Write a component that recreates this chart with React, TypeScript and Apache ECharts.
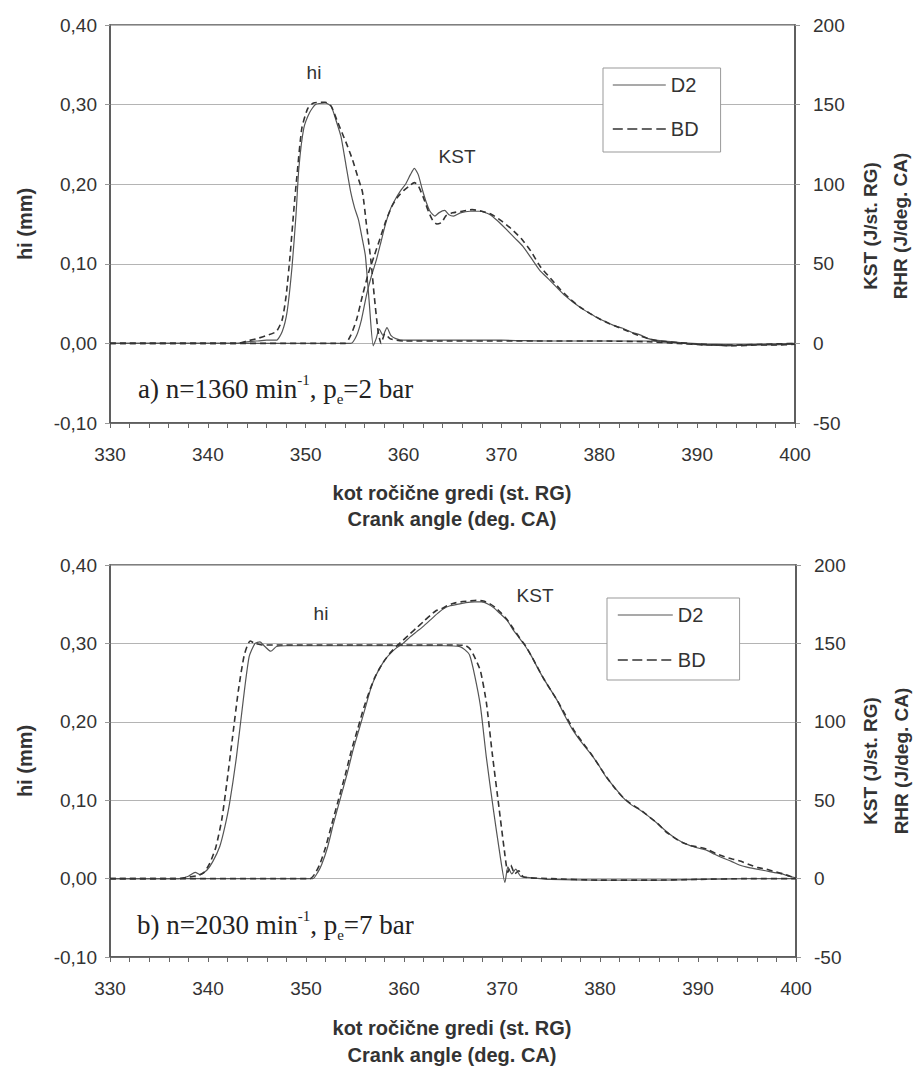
import React, { useEffect, useRef } from "react";
import * as echarts from "echarts";

// ---------- data (crank angle [deg], value) ----------
// Panel a) n=1360 min-1, pe=2 bar
const hiD2A: [number, number][] = [
  [330, 0], [343, 0], [344, 0.002], [345, 0.003], [346, 0.004], [347, 0.004], [347.6, 0.015], [348.1, 0.04],
  [348.6, 0.096], [349, 0.16], [349.3, 0.22], [349.8, 0.27], [350.4, 0.29], [351, 0.3], [352, 0.302],
  [352.6, 0.298], [353.1, 0.28], [353.6, 0.26], [354.1, 0.225], [354.6, 0.19], [355, 0.17], [355.4, 0.155],
  [355.8, 0.13], [356.1, 0.11], [356.5, 0.05], [356.9, -0.003], [357.2, 0.006], [357.5, 0.018], [357.9, 0.01],
  [358.3, 0.02], [358.7, 0.01], [359.2, 0.006], [360, 0.004], [365, 0.004], [370, 0.004], [375, 0.003],
  [380, 0.003], [385, 0.003], [388, 0.001], [391, -0.001], [394, -0.002], [397, -0.001], [400, 0],
];
const hiBDA: [number, number][] = [
  [330, 0], [343, 0], [344, 0.003], [345, 0.006], [346, 0.01], [347, 0.015], [347.6, 0.03], [348, 0.06],
  [348.4, 0.11], [348.8, 0.17], [349.1, 0.21], [349.6, 0.27], [350.2, 0.295], [350.8, 0.302], [352, 0.303],
  [352.6, 0.298], [353.2, 0.28], [353.7, 0.265], [354.2, 0.25], [354.8, 0.23], [355.3, 0.21], [355.8, 0.19],
  [356.2, 0.15], [356.7, 0.1], [357, 0.06], [357.4, 0.015], [357.7, 0], [358.1, 0.012], [358.6, 0.006],
  [359.3, 0.004], [360, 0.003], [365, 0.003], [370, 0.003], [375, 0.003], [380, 0.003], [385, 0.002],
  [388, 0], [391, -0.002], [394, -0.002], [397, -0.001], [400, 0],
];
const kstD2A: [number, number][] = [
  [330, 0], [354.6, 0], [355.2, 5], [355.7, 15], [356.2, 30], [356.7, 42], [357.2, 52], [357.7, 64],
  [358.2, 76], [358.7, 85], [359.2, 91], [359.7, 96], [360.2, 100], [360.7, 106], [361.1, 110], [361.5, 106],
  [361.9, 97], [362.3, 89], [362.7, 83], [363.2, 80], [363.6, 82], [364.2, 83.5], [364.6, 81], [365.1, 80],
  [365.8, 82], [366.8, 83], [367.8, 83], [368.8, 81], [369.6, 77], [370.6, 71], [371.4, 66], [372.2, 61],
  [373, 54], [373.9, 46], [374.8, 40.5], [375.6, 35.5], [376.5, 30], [377.3, 26], [378.2, 22], [379, 19],
  [380, 15.5], [380.7, 13.5], [381.6, 11], [382.4, 9.5], [383.3, 7], [384.1, 5.5], [385, 3], [385.8, 2],
  [387.5, 1], [389, 0], [391, -1], [393, -1.5], [395, -1], [397, -1], [400, -0.5],
];
const kstBDA: [number, number][] = [
  [330, 0], [354, 0], [354.6, 5], [355.2, 15], [355.8, 30], [356.4, 44], [357, 55], [357.6, 66], [358.2, 77],
  [358.8, 86], [359.4, 92], [360, 96], [360.6, 99], [361.1, 101], [361.5, 99], [362, 92], [362.6, 82],
  [363, 77], [363.4, 75], [363.9, 76], [364.3, 80], [365, 82], [366, 83], [367, 84], [368, 83], [369, 81],
  [370, 77], [371, 72], [372, 66], [373, 58], [374, 48], [375, 41], [376, 34], [377, 28], [378, 23], [379, 19],
  [380, 15.5], [381, 12.5], [382, 10], [383, 7.5], [384, 5], [385, 3], [386, 1.5], [387, 1], [388, 0.5],
  [390, -0.5], [392, -1], [394, -1.5], [396, -1], [398, -1], [400, -0.5],
];

// Panel b) n=2030 min-1, pe=7 bar
const hiD2B: [number, number][] = [
  [330, 0], [337, 0], [338, 0.003], [338.7, 0.008], [339.2, 0.005], [339.9, 0.011], [340.5, 0.022],
  [341.2, 0.041], [341.7, 0.065], [342.2, 0.096], [342.9, 0.155], [343.6, 0.228], [344.2, 0.283], [344.8, 0.3],
  [345.3, 0.302], [345.8, 0.296], [346.4, 0.29], [347, 0.296], [348, 0.297], [350, 0.297], [355, 0.297],
  [360, 0.297], [364, 0.297], [365.7, 0.296], [366.2, 0.292], [366.7, 0.285], [367.2, 0.26], [367.8, 0.22],
  [368.4, 0.155], [369.1, 0.09], [369.8, 0.03], [370.3, -0.005], [370.6, 0.015], [371, 0.006], [371.4, 0.012],
  [371.9, 0.003], [373, 0.001], [375, -0.001], [380, -0.002], [385, -0.002], [390, -0.001], [395, 0], [400, 0],
];
const hiBDB: [number, number][] = [
  [330, 0], [337, 0], [338, 0.002], [339, 0.004], [339.6, 0.008], [340.2, 0.02], [340.8, 0.04], [341.4, 0.075],
  [341.9, 0.12], [342.5, 0.18], [343.1, 0.24], [343.7, 0.285], [344.3, 0.303], [344.8, 0.3], [345.5, 0.298],
  [347, 0.298], [350, 0.298], [355, 0.298], [360, 0.298], [365, 0.298], [366.3, 0.297], [366.8, 0.292],
  [367.3, 0.28], [367.8, 0.265], [368.4, 0.225], [369, 0.16], [369.7, 0.09], [370.2, 0.04], [370.6, 0.008],
  [370.9, 0.017], [371.3, 0.006], [371.7, 0.01], [372.2, 0.002], [375, 0], [380, -0.002], [385, -0.002],
  [390, -0.001], [395, 0], [400, 0],
];
const kstD2B: [number, number][] = [
  [330, 0], [350.7, 0], [351.2, 4], [351.6, 9], [352.2, 20], [352.8, 35], [353.5, 51], [354.2, 67], [354.8, 82],
  [355.5, 97], [356.1, 110], [356.6, 121], [357.1, 129], [357.6, 135], [358.1, 140], [358.6, 143.5],
  [359.2, 147], [359.9, 150], [360.6, 154], [361.3, 157.5], [362, 161], [362.7, 165], [363.4, 169], [364, 172],
  [364.7, 174], [365.5, 175], [366.3, 176], [367.2, 176.5], [367.9, 176.5], [368.6, 175], [369.2, 172.5],
  [369.8, 169], [370.5, 165], [371.1, 159], [371.7, 154], [372.3, 149], [372.9, 143], [373.5, 136],
  [374.2, 128], [374.9, 121], [375.6, 114], [376.4, 104], [377.2, 95], [378.1, 87], [379, 80], [379.8, 73],
  [380.6, 65], [381.5, 58], [382.3, 52], [383.1, 47.5], [384, 44], [384.9, 40], [385.8, 35.5], [386.6, 31],
  [387.5, 26.5], [388.3, 23.5], [389.2, 21], [390, 19.5], [390.9, 18], [391.7, 15.5], [392.6, 13], [393.4, 11],
  [394.3, 8.5], [395.2, 7], [396, 6], [396.9, 5], [397.7, 4], [398.6, 3], [399.3, 1.5], [400, 0.5],
];
const kstBDB: [number, number][] = [
  [330, 0], [350.4, 0], [350.9, 3], [351.4, 9], [352, 20], [352.6, 34], [353.3, 50], [354, 66], [354.6, 81],
  [355.3, 96], [355.9, 109], [356.5, 120], [357, 128], [357.5, 134], [358, 139], [358.6, 144], [359.2, 148],
  [359.9, 152], [360.6, 156], [361.3, 160], [362, 164], [362.7, 168], [363.3, 171], [363.8, 172], [364.4, 174],
  [365, 175.5], [365.8, 176.5], [366.6, 177], [367.4, 177.5], [368.1, 177], [368.7, 175.5], [369.3, 173],
  [369.9, 169.5], [370.6, 164.5], [371.2, 159], [371.8, 153.5], [372.4, 148.5], [373, 142], [373.6, 135],
  [374.3, 127], [375, 120], [375.7, 113], [376.5, 104], [377.3, 95], [378.2, 87], [379.1, 79.5], [379.9, 72],
  [380.7, 64.5], [381.6, 57], [382.4, 51.5], [383.2, 47.5], [384.1, 44], [385, 39.5], [385.9, 35], [386.7, 30],
  [387.6, 26], [388.4, 23], [389.3, 21], [390.1, 20], [391, 18.5], [391.8, 16], [392.7, 14], [393.5, 12.5],
  [394.4, 11], [395.2, 9], [396.1, 7], [397, 6], [397.8, 4.5], [398.7, 3], [399.4, 1.5], [400, 0.5],
];

const legendNames = ["D2", "BD"];
const xTitle1 = "kot ročične gredi (st. RG)";
const xTitle2 = "Crank angle (deg. CA)";
const yLeftTitle = "hi (mm)";
const yRightTitle1 = "KST (J/st. RG)";
const yRightTitle2 = "RHR (J/deg. CA)";

const SANS = '"Liberation Sans", Arial, sans-serif';
const SERIF = '"Liberation Serif", "Times New Roman", serif';
const TXT = "#333";

export default function App() {
  const ref = useRef<HTMLDivElement>(null);

  useEffect(() => {
    if (!ref.current) return;
    const chart = echarts.init(ref.current, undefined, { renderer: "svg" });

    const xAxis = (gridIndex: number) => ({
      type: "value",
      gridIndex,
      min: 330,
      max: 400,
      interval: 10,
      axisLine: { show: true, onZero: false, lineStyle: { color: "#555", width: 1.5 } },
      axisTick: { show: true, length: 5, lineStyle: { color: "#666" } },
      minorTick: { show: true, splitNumber: 5, length: 5, lineStyle: { color: "#666" } },
      splitLine: { show: false },
      axisLabel: { color: TXT, fontSize: 19, fontFamily: SANS, margin: 22 },
    });
    const yLeft = (gridIndex: number) => ({
      type: "value",
      gridIndex,
      position: "left",
      min: -0.1,
      max: 0.4,
      interval: 0.1,
      axisLine: { show: true, onZero: false, lineStyle: { color: "#555", width: 1.5 } },
      axisTick: { show: true, length: 5, lineStyle: { color: "#999" } },
      splitLine: { show: true, lineStyle: { color: "#b4b4b4", width: 1 } },
      axisLabel: {
        color: TXT,
        fontSize: 19,
        fontFamily: SANS,
        margin: 13,
        formatter: (v: number) => v.toFixed(2).replace(".", ","),
      },
    });
    const yRight = (gridIndex: number) => ({
      type: "value",
      gridIndex,
      position: "right",
      min: -50,
      max: 200,
      interval: 50,
      axisLine: { show: true, onZero: false, lineStyle: { color: "#555", width: 1.5 } },
      axisTick: { show: true, length: 5, lineStyle: { color: "#999" } },
      splitLine: { show: false },
      axisLabel: { color: TXT, fontSize: 19, fontFamily: SANS, margin: 18 },
    });

    const line = (name: string, data: [number, number][], xi: number, yi: number, dashed: boolean) => ({
      type: "line",
      name,
      data,
      xAxisIndex: xi,
      yAxisIndex: yi,
      symbol: "none",
      smooth: 0.2,
      z: dashed ? 4 : 3,
      itemStyle: { color: dashed ? "#333" : "#555" },
      lineStyle: {
        color: dashed ? "#333" : "#555",
        width: dashed ? 1.6 : 1.2,
        type: dashed ? [6, 4] : "solid",
      },
    });

    const legend = (left: number, top: number, itemWidth: number, itemGap: number, padding: number[]) => ({
      orient: "vertical",
      left,
      top,
      data: [
        { name: legendNames[0], lineStyle: { type: "solid", width: 1.2, color: "#555" } },
        { name: legendNames[1], lineStyle: { type: [10, 4.5], width: 1.6, color: "#333" } },
      ],
      itemWidth,
      itemHeight: 20,
      itemGap,
      padding,
      backgroundColor: "#fff",
      borderColor: "#999",
      borderWidth: 1,
      selectedMode: false,
      itemStyle: { color: "transparent", borderColor: "transparent", borderWidth: 0, opacity: 0 },
      textStyle: { color: TXT, fontSize: 20, fontFamily: SANS, padding: [0, 0, 0, 0] },
    });

    const txt = (x: number, y: number, text: string, size: number, bold = false, rotation = 0, align = "center") => ({
      type: "text",
      x,
      y,
      rotation,
      z: 10,
      style: {
        text,
        fill: TXT,
        font: `${bold ? "bold " : ""}${size}px ${SANS}`,
        align,
        verticalAlign: "middle",
      },
    });

    const note = (x: number, y: number, a: string, n: string, p: string) => ({
      type: "text",
      x,
      y,
      z: 10,
      style: {
        text: `{m|${a}) n=${n} min}{s|-1}{m|, p}{b|e}{m|=${p} bar}`,
        align: "left",
        verticalAlign: "middle",
        fill: "#222",
        rich: {
          m: { fontSize: 27, fontFamily: SERIF, lineHeight: 34, verticalAlign: "middle", fill: "#222" },
          s: { fontSize: 15, fontFamily: SERIF, lineHeight: 24, verticalAlign: "top", fill: "#222" },
          b: { fontSize: 15, fontFamily: SERIF, lineHeight: 28, verticalAlign: "bottom", fill: "#222" },
        },
      },
    });

    chart.setOption({
      animation: false,
      backgroundColor: "#fff",
      grid: [
        { left: 110, top: 25, width: 685, height: 398, show: true, borderColor: "#555", borderWidth: 1.5, backgroundColor: "transparent" },
        { left: 110, top: 565, width: 686, height: 392, show: true, borderColor: "#555", borderWidth: 1.5, backgroundColor: "transparent" },
      ],
      xAxis: [xAxis(0), xAxis(1)],
      yAxis: [yLeft(0), yRight(0), yLeft(1), yRight(1)],
      legend: [
        legend(603, 68, 53, 24, [7, 22, 13, 9]),
        legend(607, 598, 55, 25, [7, 34, 10, 10]),
      ],
      series: [
        line("D2", hiD2A, 0, 0, false),
        line("BD", hiBDA, 0, 0, true),
        line("D2", kstD2A, 0, 1, false),
        line("BD", kstBDA, 0, 1, true),
        line("D2", hiD2B, 1, 2, false),
        line("BD", hiBDB, 1, 2, true),
        line("D2", kstD2B, 1, 3, false),
        line("BD", kstBDB, 1, 3, true),
      ],
      graphic: [
        txt(314, 72, "hi", 19),
        txt(457, 156, "KST", 19),
        txt(321, 613, "hi", 19),
        txt(535, 595, "KST", 19),
        txt(25, 224, yLeftTitle, 20, true, Math.PI / 2),
        txt(25, 761, yLeftTitle, 20, true, Math.PI / 2),
        txt(870, 226, yRightTitle1, 19, true, Math.PI / 2),
        txt(900, 226, yRightTitle2, 19, true, Math.PI / 2),
        txt(870, 761, yRightTitle1, 19, true, Math.PI / 2),
        txt(901, 761, yRightTitle2, 19, true, Math.PI / 2),
        txt(452, 493, xTitle1, 20, true),
        txt(452, 519, xTitle2, 20, true),
        txt(452, 1028, xTitle1, 20, true),
        txt(452, 1055, xTitle2, 20, true),
        note(138, 389, "a", "1360", "2"),
        note(137, 925, "b", "2030", "7"),
      ],
    });

    return () => chart.dispose();
  }, []);

  return (
    <div
      ref={ref}
      style={{ position: "absolute", left: 0, top: 0, width: 914, height: 1073 }}
    />
  );
}
